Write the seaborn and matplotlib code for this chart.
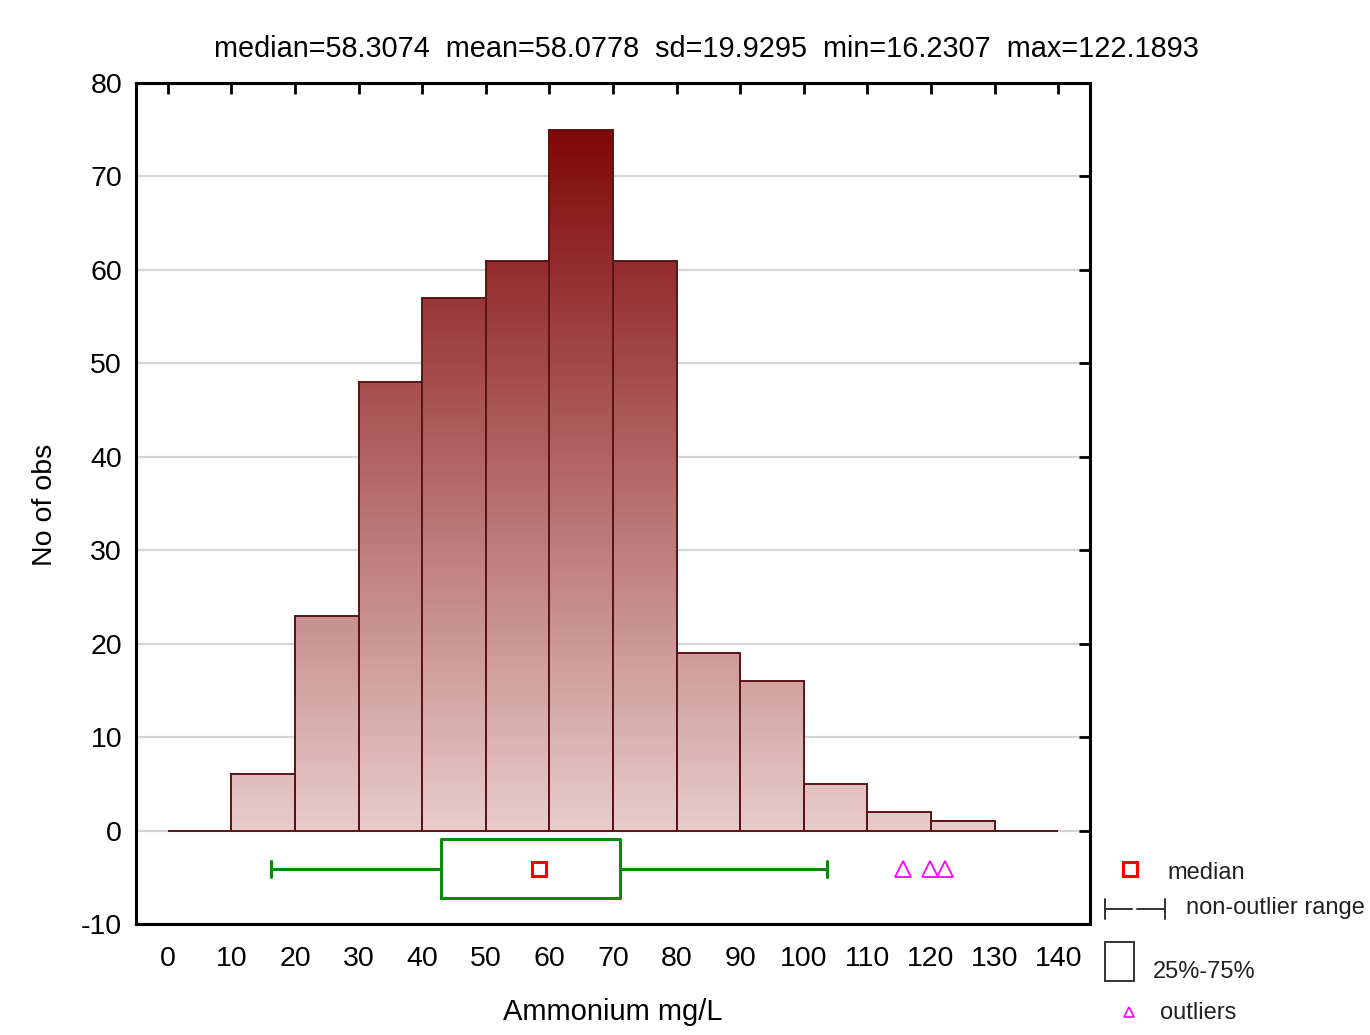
import numpy as np
import pandas as pd
import matplotlib
matplotlib.use("Agg")
import matplotlib.pyplot as plt
import seaborn as sns
from matplotlib.colors import LinearSegmentedColormap, Normalize
from matplotlib.lines import Line2D
from matplotlib.patches import Rectangle

# ---------------- data ----------------
bin_edges = [0, 10, 20, 30, 40, 50, 60, 70, 80, 90, 100, 110, 120, 130, 140]
counts = [0, 6, 23, 48, 57, 61, 75, 61, 19, 16, 5, 2, 1, 0]
box_whislo = 16.2307
box_q1 = 43.0
box_median = 58.3074
box_q3 = 71.1
box_whishi = 103.6
outliers = [115.6, 119.9, 122.1893]
title_text = "median=58.3074  mean=58.0778  sd=19.9295  min=16.2307  max=122.1893"
x_ticks = [0, 10, 20, 30, 40, 50, 60, 70, 80, 90, 100, 110, 120, 130, 140]
y_ticks = [-10, 0, 10, 20, 30, 40, 50, 60, 70, 80]
legend_labels = ["median", "non-outlier range", "25%-75%", "outliers"]

# ---------------- style ----------------
sns.set_style("white")
plt.rcParams['font.family'] = ['Liberation Sans', 'DejaVu Sans']
plt.rcParams['axes.unicode_minus'] = False
plt.rcParams['text.color'] = 'black'
plt.rcParams['xtick.color'] = 'black'
plt.rcParams['ytick.color'] = 'black'
plt.rcParams['xtick.labelcolor'] = 'black'
plt.rcParams['ytick.labelcolor'] = 'black'

W, H = 1370, 1035
FS = 20.5
fig = plt.figure(figsize=(W / 100, H / 100), dpi=100)
ax = fig.add_axes([136 / W, 1 - 924 / H, (1090 - 136) / W, (924 - 83) / H])

centers = [(a + b) / 2 for a, b in zip(bin_edges[:-1], bin_edges[1:])]
df = pd.DataFrame({"x": centers, "w": counts})

# horizontal grid
for yv in y_ticks:
    if -10 < yv < 80:
        ax.axhline(yv, color="#d6d6d6", lw=1.6, zorder=0)

sns.histplot(data=df, x="x", weights="w", bins=bin_edges, ax=ax,
             stat="count", element="bars", fill=True,
             facecolor="none", edgecolor="#5a1416", linewidth=1.4, zorder=3)

# gradient fill clipped to each bar
cmap = LinearSegmentedColormap.from_list("grad", [(0.0, (0.91, 0.80, 0.80)),
                                                  (1.0, (0.50, 0.03, 0.03))])
norm = Normalize(vmin=0, vmax=75)
for p in ax.patches:
    x0, y0 = p.get_x(), p.get_y()
    w, h = p.get_width(), p.get_height()
    p.set_facecolor("none")
    p.set_edgecolor("#5a1416")
    p.set_zorder(3)
    if h <= 0:
        continue
    yy = np.linspace(h, 0, 200).reshape(-1, 1)
    img = ax.imshow(cmap(norm(yy)), extent=(x0, x0 + w, y0, y0 + h),
                    aspect="auto", zorder=2, interpolation="bilinear")
    img.set_clip_path(p)

# box plot
stats = [dict(whislo=box_whislo, q1=box_q1, med=box_median, q3=box_q3,
              whishi=box_whishi, fliers=outliers)]
green = "#0a8a0a"
ax.bxp(stats, positions=[-4.1], widths=6.3, vert=False, showfliers=True,
       capwidths=1.7, patch_artist=False, manage_ticks=False,
       boxprops=dict(color=green, lw=2.2),
       whiskerprops=dict(color=green, lw=2.2),
       capprops=dict(color=green, lw=2.2),
       medianprops=dict(visible=False),
       flierprops=dict(marker="^", markerfacecolor="none",
                       markeredgecolor="#ff00ff", markersize=11, markeredgewidth=1.3),
       zorder=4)
ax.plot([box_median], [-4.1], marker="s", ms=10, mfc="none", mec="#ff0000",
        mew=2.2, ls="none", zorder=5)

ax.set_xlim(-5, 145)
ax.set_ylim(-10, 80)
ax.set_xticks(x_ticks)
ax.set_yticks(y_ticks)
ax.tick_params(axis="both", direction="in", length=8, width=2, labelsize=FS,
               top=True, right=True, color="black", labelcolor="black")
ax.tick_params(axis="x", pad=16)
ax.tick_params(axis="y", pad=10)
for s in ax.spines.values():
    s.set_color("black")
    s.set_linewidth(2.2)
    s.set_visible(True)
ax.set_xlabel("")
ax.set_ylabel("")

fig.text(706 / W, 1 - 49 / H, title_text, ha="center", va="center", fontsize=FS + 0.3,
         color="black")
fig.text(613 / W, 1 - 1012 / H, "Ammonium mg/L", ha="center", va="center",
         fontsize=FS + 0.5, color="black")
fig.text(45 / W, 1 - 505 / H, "No of obs", ha="center", va="center",
         rotation=90, fontsize=FS, color="black")

# legend (manual, outside axes)
def fx(px):
    return px / W

def fy(py):
    return 1 - py / H

LFS = 17
fig.add_artist(Line2D([fx(1130)], [fy(869)], marker="s", ms=10, mfc="none",
                      mec="#ff0000", mew=2.2, ls="none"))
fig.text(fx(1167), fy(873), legend_labels[0], ha="left", va="center", fontsize=LFS,
         color="#222222")
lk = dict(color="#333333", lw=1.4)
fig.add_artist(Line2D([fx(1105), fx(1105)], [fy(899), fy(919)], **lk))
fig.add_artist(Line2D([fx(1165), fx(1165)], [fy(899), fy(919)], **lk))
fig.add_artist(Line2D([fx(1105), fx(1132)], [fy(909), fy(909)], **lk))
fig.add_artist(Line2D([fx(1137), fx(1165)], [fy(909), fy(909)], **lk))
fig.text(fx(1186), fy(908), legend_labels[1], ha="left", va="center", fontsize=LFS,
         color="#222222")
fig.add_artist(Rectangle((fx(1105), fy(981)), fx(29), 39 / H, fill=False,
                         edgecolor="#333333", lw=1.4, transform=fig.transFigure))
fig.text(fx(1153), fy(972), legend_labels[2], ha="left", va="center", fontsize=LFS,
         color="#222222")
fig.add_artist(Line2D([fx(1129)], [fy(1012)], marker="^", ms=7, mfc="none",
                      mec="#ff00ff", mew=1.2, ls="none"))
fig.text(fx(1160), fy(1013), legend_labels[3], ha="left", va="center", fontsize=LFS,
         color="#222222")

fig.savefig("out.png", dpi=100)
